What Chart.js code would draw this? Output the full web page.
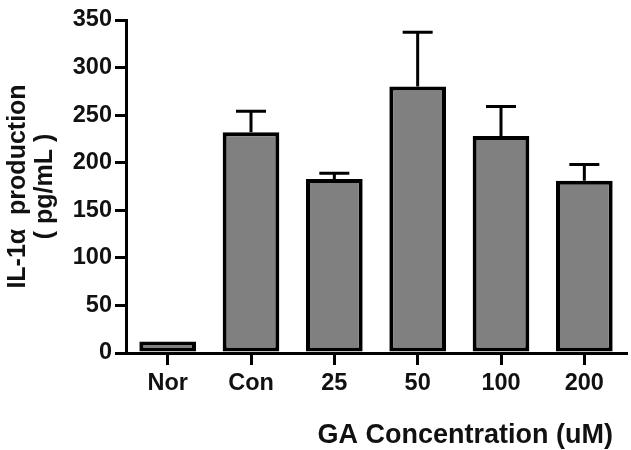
<!DOCTYPE html>
<html>
<head>
<meta charset="utf-8">
<script src="https://cdn.jsdelivr.net/npm/chart.js@4"></script>
<style>
  html, body { margin: 0; padding: 0; background: #ffffff; }
  #wrap { width: 631px; height: 450px; }
</style>
</head>
<body>
<div id="wrap"><canvas id="il1Chart" width="631" height="450"></canvas></div>
<script>
// IL-1a production per group
const groups = ['Nor', 'Con', '25', '50', '100', '200'];
const meanValues = [12, 232, 183, 280, 228, 181];
const semValues = [0, 22, 6, 57, 31, 17];
const yTicks = [0, 50, 100, 150, 200, 250, 300, 350];

const FONT = '"Liberation Sans", Arial, Helvetica, sans-serif';

// upper-only error bars, drawn under the bars so the bar outline hides the stem base
const errorBars = {
    id: 'errorBars',
    beforeDatasetsDraw(chart) {
        const ctx = chart.ctx;
        const meta = chart.getDatasetMeta(0);
        const y = chart.scales.y;
        ctx.save();
        ctx.strokeStyle = '#000000';
        ctx.lineWidth = 3;
        meta.data.forEach((bar, i) => {
            if (!semValues[i]) return;
            const top = y.getPixelForValue(meanValues[i] + semValues[i]);
            const base = y.getPixelForValue(meanValues[i]);
            ctx.beginPath();
            ctx.moveTo(bar.x, base);
            ctx.lineTo(bar.x, top);
            ctx.moveTo(bar.x - 15, top);
            ctx.lineTo(bar.x + 15, top);
            ctx.stroke();
        });
        ctx.restore();
    }
};

// x axis title sits a little in from the right end of the axis
const xTitle = {
    id: 'xTitle',
    afterDraw(chart) {
        const ctx = chart.ctx;
        ctx.save();
        ctx.font = 'bold 27px ' + FONT;
        ctx.fillStyle = '#111111';
        ctx.textAlign = 'right';
        ctx.textBaseline = 'middle';
        ctx.fillText('GA Concentration (uM)', chart.chartArea.right - 13, 436);
        ctx.restore();
    }
};

const ctx = document.getElementById('il1Chart');

new Chart(ctx, {
    type: 'bar',
    data: {
        labels: groups,
        datasets: [{
            data: meanValues,
            backgroundColor: '#808080',
            borderColor: '#000000',
            borderWidth: 4,
            borderSkipped: false,
            barPercentage: 0.68,
            categoryPercentage: 1.0
        }]
    },
    options: {
        responsive: false,
        animation: false,
        devicePixelRatio: 1,
        layout: {
            padding: { top: 20, right: 5, bottom: 0, left: 0 }
        },
        plugins: {
            legend: { display: false },
            tooltip: { enabled: false }
        },
        scales: {
            x: {
                offset: true,
                grid: {
                    offset: false,
                    drawOnChartArea: false,
                    drawTicks: true,
                    tickLength: 12,
                    color: '#000000',
                    lineWidth: 3
                },
                border: { display: true, color: '#000000', width: 3 },
                ticks: {
                    color: '#111111',
                    padding: 4,
                    font: { family: FONT, size: 23.5, weight: 'bold' }
                },
                afterFit(scale) {
                    scale.height = 97;
                }
            },
            y: {
                min: 0,
                max: 350,
                afterBuildTicks(scale) {
                    scale.ticks = yTicks.map(v => ({ value: v }));
                },
                grid: {
                    drawOnChartArea: false,
                    drawTicks: true,
                    tickLength: 11,
                    color: '#000000',
                    lineWidth: 3
                },
                border: { display: true, color: '#000000', width: 3 },
                ticks: {
                    color: '#111111',
                    padding: 3,
                    font: { family: FONT, size: 23.5, weight: 'bold' }
                },
                title: {
                    display: true,
                    text: ['IL-1\u03b1  production', '( pg/mL )'],
                    color: '#111111',
                    padding: { top: 4, bottom: 0 },
                    font: { family: FONT, size: 25, weight: 'bold', lineHeight: 1.1 }
                },
                afterFit(scale) {
                    scale.width = 126;
                }
            }
        }
    },
    plugins: [errorBars, xTitle]
});
</script>
</body>
</html>
